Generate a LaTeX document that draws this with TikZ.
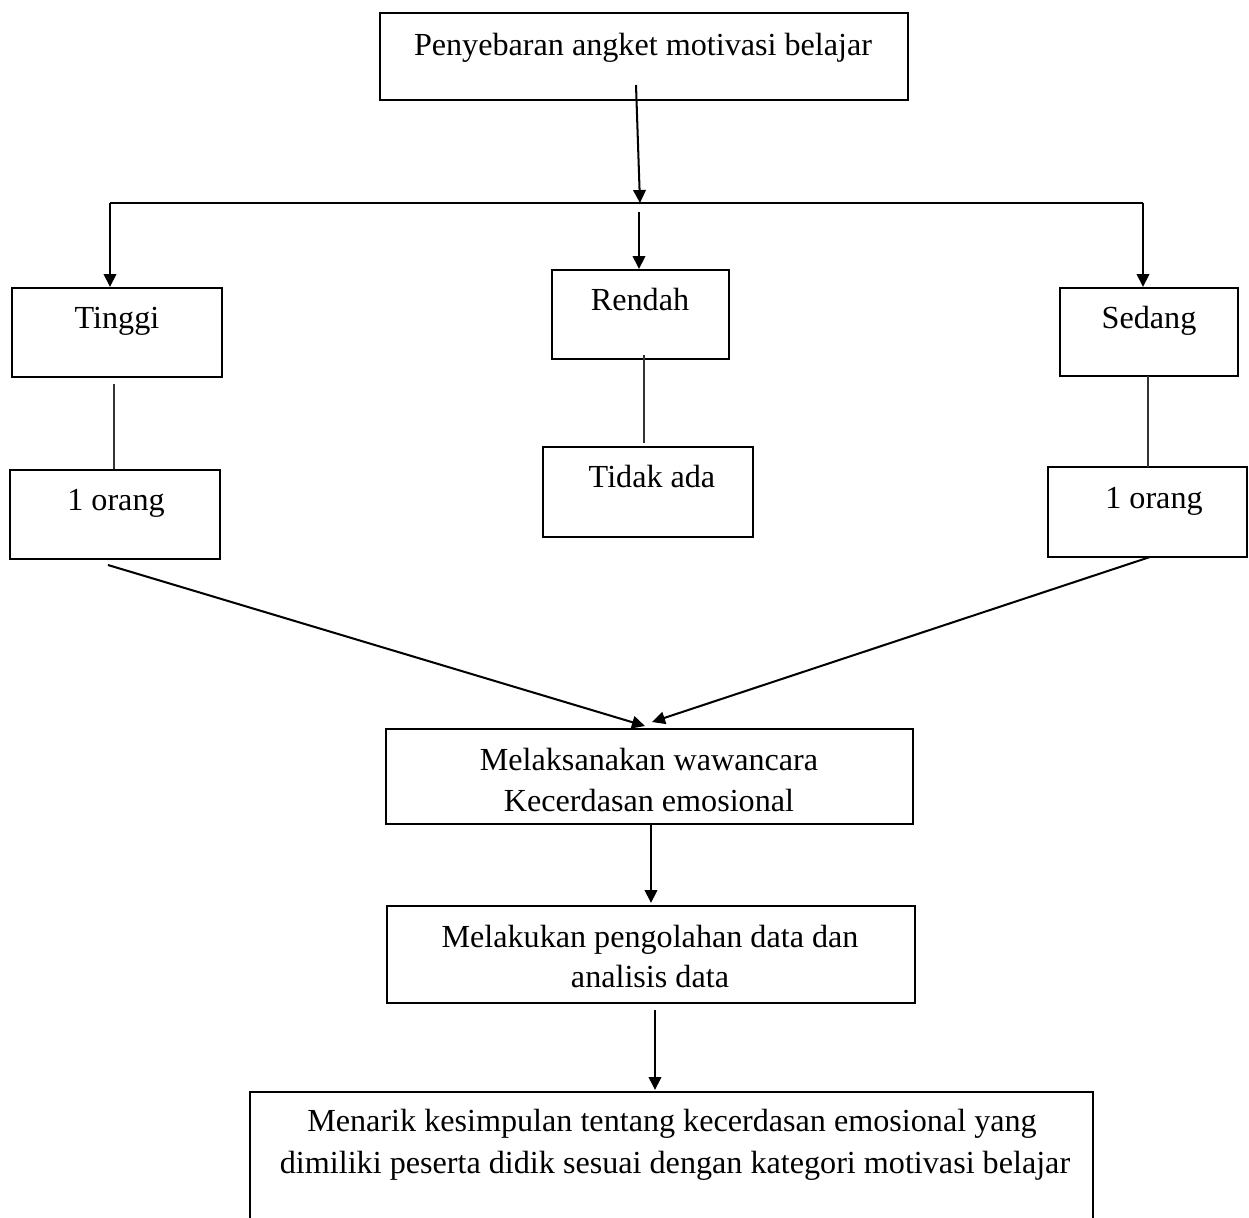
\documentclass[tikz,border=0pt]{standalone}
\usepackage{fontspec}
\setmainfont{Liberation Serif}
\usetikzlibrary{arrows.meta}
\begin{document}
\begin{tikzpicture}[x=0.02cm,y=-0.02cm,
  box/.style={draw, line width=1.45pt, inner sep=0pt},
  txt/.style={anchor=base, inner sep=0pt, font=\fontsize{18.3}{22}\selectfont},
  arr/.style={line width=1.15pt, -{Triangle[length=0.26cm,width=0.25cm]}},
  thinline/.style={line width=0.6pt, draw=black!80},
  hline/.style={line width=0.8pt}]
\useasboundingbox (0,0) rectangle (1249,1218);
\clip (0,0) rectangle (1249,1218);

% boxes
\node[box, minimum width=10.56cm, minimum height=1.74cm] (top) at (644,56.5) {};
\node[box, minimum width=4.2cm, minimum height=1.78cm] (tinggi) at (117,332.5) {};
\node[box, minimum width=3.54cm, minimum height=1.78cm] (rendah) at (640.5,314.5) {};
\node[box, minimum width=3.56cm, minimum height=1.76cm] (sedang) at (1149,332) {};
\node[box, minimum width=4.2cm, minimum height=1.78cm] (orangL) at (115,514.5) {};
\node[box, minimum width=4.2cm, minimum height=1.8cm] (tidak) at (648,492) {};
\node[box, minimum width=3.98cm, minimum height=1.8cm] (orangR) at (1147.5,512) {};
\node[box, minimum width=10.54cm, minimum height=1.9cm] (wawan) at (649.5,776.5) {};
\node[box, minimum width=10.56cm, minimum height=1.94cm] (olah) at (651,954.5) {};
\node[box, minimum width=16.86cm, minimum height=4cm] (simpul) at (671.5,1192) {};

% texts
\node[txt] (ttop) at (643,55) {Penyebaran angket motivasi belajar};
\node[txt] (ttinggi) at (117,328) {Tinggi};
\node[txt] (trendah) at (640,310) {Rendah};
\node[txt] (tsedang) at (1149,328) {Sedang};
\node[txt] (torangL) at (116,510) {1 orang};
\node[txt] (ttidak) at (652,487) {Tidak ada};
\node[txt] (torangR) at (1154,508) {1 orang};
\node[txt] (twawanA) at (649,770) {Melaksanakan wawancara};
\node[txt] (twawanB) at (649,811) {Kecerdasan emosional};
\node[txt] (tolahA) at (650,947) {Melakukan pengolahan data dan};
\node[txt] (tolahB) at (650,987) {analisis data};
\node[txt] (tsimpulA) at (672,1131) {Menarik kesimpulan tentang kecerdasan emosional yang};
\node[txt] (tsimpulB) at (675,1173) {dimiliki peserta didik sesuai dengan kategori motivasi belajar};

% connector points
\coordinate (s0) at (636,85);
\coordinate (e0) at (640,203);
\coordinate (hl) at (110,203);
\coordinate (hr) at (1143,203);
\coordinate (rs) at (639,212);
\coordinate (re) at (639,269);
\coordinate (le) at (110,287);
\coordinate (rre) at (1143,287);
\coordinate (t1a) at (114,384);
\coordinate (t1b) at (114,469);
\coordinate (t2a) at (644,355);
\coordinate (t2b) at (644,443);
\coordinate (t3a) at (1148,376);
\coordinate (t3b) at (1148,467);
\coordinate (dls) at (108,565);
\coordinate (dle) at (645,726);
\coordinate (drs) at (1150,557);
\coordinate (dre) at (652,722);
\coordinate (w1) at (651,825);
\coordinate (w2) at (651,903);
\coordinate (o1) at (655,1010);
\coordinate (o2) at (655,1090);

% connectors
\draw[arr] (s0) -- (e0);
\draw[hline] (hl) -- (hr);
\draw[arr] (hl) -- (le);
\draw[arr] (rs) -- (re);
\draw[arr] (hr) -- (rre);
\draw[thinline] (t1a) -- (t1b);
\draw[thinline] (t2a) -- (t2b);
\draw[thinline] (t3a) -- (t3b);
\draw[arr] (dls) -- (dle);
\draw[arr] (drs) -- (dre);
\draw[arr] (w1) -- (w2);
\draw[arr] (o1) -- (o2);
\end{tikzpicture}
\end{document}
